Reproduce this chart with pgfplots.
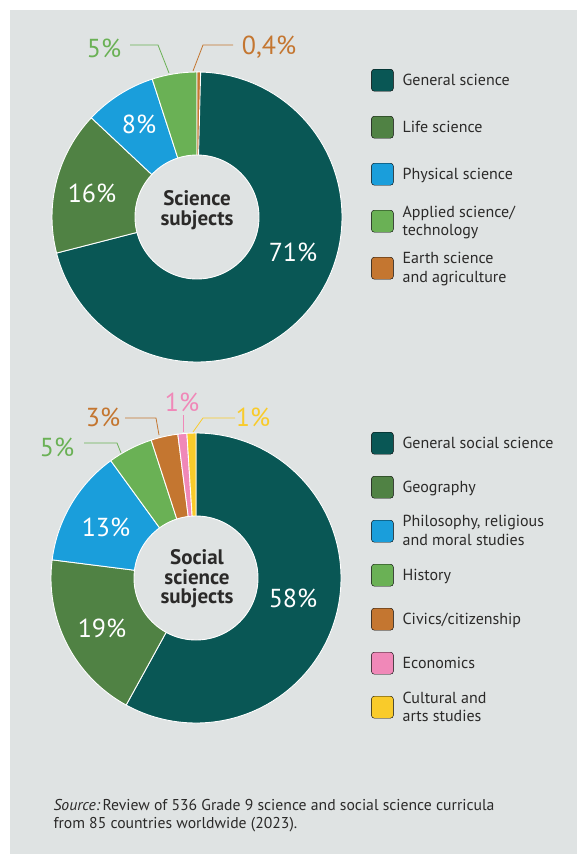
\documentclass[border=0pt]{standalone}
\usepackage{fontspec}
\setmainfont{PT Sans}
\usepackage{pgfplots}
\usepackage{pgfplotstable}
\pgfplotsset{compat=1.18}

\definecolor{bg}{HTML}{DFE3E3}
\definecolor{cteal}{HTML}{095755}
\definecolor{cdkgreen}{HTML}{508244}
\definecolor{cblue}{HTML}{1A9EDB}
\definecolor{cgreen}{HTML}{6AB155}
\definecolor{corange}{HTML}{C47630}
\definecolor{cpink}{HTML}{F088B8}
\definecolor{cyellow}{HTML}{F9CB2A}
\definecolor{ink}{HTML}{2B2A29}

% shares in percent, clockwise from 12 o'clock
\pgfplotstableread{
pct col
71  cteal
16  cdkgreen
8   cblue
5   cgreen
0.4 corange
}\scitab

\pgfplotstableread{
pct col
58 cteal
19 cdkgreen
13 cblue
5  cgreen
3  corange
1  cpink
1  cyellow
}\soctab

% #1 table, #2 #3 centre in axis units
\newcommand\donut[3]{%
  \pgfplotsextra{%
    \gdef\cum{0}%
    \pgfplotstableforeachcolumnelement{pct}\of#1\as\val{%
      \pgfplotstablegetelem{\pgfplotstablerow}{col}\of#1%
      \let\slicecol\pgfplotsretval
      \pgfmathsetmacro\angA{90-3.6*\cum}%
      \pgfmathsetmacro\angB{90-3.6*(\cum+\val)}%
      \filldraw[fill=\slicecol, draw=white, line width=0.9pt, line join=round]
        (axis cs:#2,#3) -- ++(\angA:145pt) arc[start angle=\angA, end angle=\angB, radius=145pt] -- cycle;
      \pgfmathsetmacro\tmp{\cum+\val}\xdef\cum{\tmp}%
    }%
    \filldraw[fill=bg, draw=white, line width=0.9pt] (axis cs:#2,#3) circle[radius=62pt];
  }%
}

\pgfplotsset{
  canvas/.style={
    width=577pt, height=854pt, scale only axis,
    xmin=0, xmax=577, ymin=0, ymax=854, y dir=reverse,
    hide axis, clip=false,
    legend cell align=left,
    legend image code/.code={\fill[##1, rounded corners=3pt] (0pt,-11pt) rectangle (22pt,11pt);},
  },
}
\tikzset{
  pctlab/.style={font=\fontsize{26}{26}\selectfont},
  ctr/.style={font=\fontsize{21}{19.5}\selectfont\bfseries, text=ink, align=center},
}

\begin{document}
\begin{tikzpicture}
% ---- science ----
\begin{axis}[canvas,
  legend style={at={(axis cs:371,60)}, anchor=north west, draw=none, fill=none,
    inner sep=0pt, row sep=7pt, column sep=9pt,
    font=\fontsize{16}{18.3}\selectfont,
    nodes={inner sep=0pt, minimum height=40pt, align=left, text=ink}},
]
\path (axis cs:0,0) rectangle (axis cs:577,854);
\fill[bg] (axis cs:10,10) rectangle (axis cs:577,854);
\donut{\scitab}{197}{217}
\addlegendimage{fill=cteal}\addlegendentry{General science}
\addlegendimage{fill=cdkgreen}\addlegendentry{Life science}
\addlegendimage{fill=cblue}\addlegendentry{Physical science}
\addlegendimage{fill=cgreen}\addlegendentry{Applied science/\\technology}
\addlegendimage{fill=corange}\addlegendentry{Earth science\\and agriculture}

\node[pctlab, white] at (axis cs:293,252) {71\%};
\node[pctlab, white] at (axis cs:92,193) {16\%};
\node[pctlab, white] at (axis cs:139,124) {8\%};
\node[pctlab, text=cgreen] at (axis cs:104,48) {5\%};
\node[pctlab, text=corange] at (axis cs:269,47) {0,4\%};
\draw[cgreen, line width=0.8pt] (axis cs:130,45) -- (axis cs:158,45) -- (axis cs:169,73);
\draw[corange, line width=0.8pt] (axis cs:233,45) -- (axis cs:203,45) -- (axis cs:193,71);
\node[ctr] at (axis cs:197,210) {Science\\subjects};

\node[anchor=base west, align=left, font=\fontsize{15.7}{18}\selectfont, text=ink]
  at (axis cs:50,828) {{\itshape Source:}\,Review of 536 Grade 9 science and social science curricula\\from 85 countries worldwide (2023).};
\end{axis}

% ---- social science ----
\begin{axis}[canvas,
  legend style={at={(axis cs:371,424)}, anchor=north west, draw=none, fill=none,
    inner sep=0pt, row sep=6pt, column sep=9pt,
    font=\fontsize{16}{18.3}\selectfont,
    nodes={inner sep=0pt, minimum height=38pt, align=left, text=ink}},
]
\donut{\soctab}{196}{578}
\addlegendimage{fill=cteal}\addlegendentry{General social science}
\addlegendimage{fill=cdkgreen}\addlegendentry{Geography}
\addlegendimage{fill=cblue}\addlegendentry{Philosophy, religious\\and moral studies}
\addlegendimage{fill=cgreen}\addlegendentry{History}
\addlegendimage{fill=corange}\addlegendentry{Civics/citizenship}
\addlegendimage{fill=cpink}\addlegendentry{Economics}
\addlegendimage{fill=cyellow}\addlegendentry{Cultural and\\arts studies}

\node[pctlab, white] at (axis cs:293,598) {58\%};
\node[pctlab, white] at (axis cs:102,628) {19\%};
\node[pctlab, white] at (axis cs:106,527) {13\%};
\node[pctlab, text=cgreen] at (axis cs:57,447) {5\%};
\node[pctlab, text=corange] at (axis cs:103,417) {3\%};
\node[pctlab, text=cpink] at (axis cs:182,402) {1\%};
\node[pctlab, text=cyellow] at (axis cs:253,417) {1\%};
\draw[cgreen, line width=0.8pt] (axis cs:84,443) -- (axis cs:117,443) -- (axis cs:121,453);
\draw[corange, line width=0.8pt] (axis cs:125,418) -- (axis cs:156,418) -- (axis cs:159,435);
\draw[cpink, line width=0.8pt] (axis cs:183,415) -- (axis cs:183,432);
\draw[cyellow, line width=0.8pt] (axis cs:235,418) -- (axis cs:203,418) -- (axis cs:193,432);
\node[ctr] at (axis cs:197,579) {Social\\science\\subjects};
\end{axis}
\end{tikzpicture}
\end{document}
